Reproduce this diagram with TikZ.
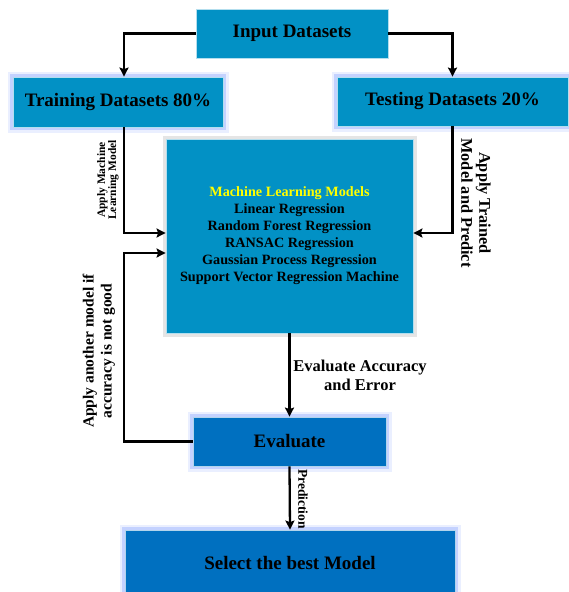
\documentclass[tikz,border=0pt]{standalone}
\usepackage{fontspec}
\setmainfont{Liberation Serif}
\usepackage{xcolor}
\usepackage{tikz}
\usetikzlibrary{arrows.meta, positioning}
\definecolor{boxblue}{HTML}{0291C5}
\definecolor{darkblue}{HTML}{0070C0}
\definecolor{glowblue}{HTML}{8CA6FF}
\definecolor{mlyellow}{HTML}{FFFF00}

\begin{document}
\begin{tikzpicture}[
    x=1pt, y=-1pt,
    every node/.style={font=\bfseries},
    box/.style={draw=white!70!boxblue, line width=0.8pt, fill=boxblue, inner sep=0pt, font=\bfseries\fontsize{19}{21}\selectfont},
    glow/.style={preaction={draw=glowblue, line width=11pt, opacity=0.18, rounded corners=5pt}, preaction={draw=glowblue, line width=6pt, opacity=0.4, rounded corners=2pt}},
    darkbox/.style={box, fill=darkblue, draw=white!70!darkblue},
    shade/.style={preaction={draw=black, line width=7pt, opacity=0.10}},
    link/.style={draw, line width=2.3pt, -{Stealth[length=9pt, width=9pt, inset=1.5pt]}},
    lbl/.style={align=center, inner sep=0pt}
]
\useasboundingbox (0,0) rectangle (568,592);

\node[box, minimum width=192pt, minimum height=49pt] (input) at (292,33.5) {Input Datasets};
\node[box, glow, minimum width=210pt, minimum height=50pt] (train) at (118,102) {Training Datasets 80\%};
\node[box, glow, minimum width=231pt, minimum height=49pt] (test) at (452.5,101.5) {Testing Datasets 20\%};
\node[box, shade, minimum width=247pt, minimum height=194pt, align=center,
      font=\bfseries\fontsize{14.2}{17}\selectfont] (ml) at (289.5,236)
    {{\color{mlyellow}Machine Learning Models}\\Linear Regression\\Random Forest Regression\\RANSAC Regression\\Gaussian Process Regression\\Support Vector Regression Machine};
\node[darkbox, glow, minimum width=193pt, minimum height=49pt] (eval) at (289.5,441.5) {Evaluate};
\node[darkbox, glow, minimum width=330pt, minimum height=66pt] (best) at (290,563) {Select the best Model};

\coordinate (lbus) at (124,253);

\draw[link] (input.west) -| ([xshift=6pt]train.north);
\draw[link] (input.east) -| (test.north);
\draw[link] ([xshift=6pt]train.south) |- ([yshift=3pt]ml.west);
\draw[link] (eval.west) -| (lbus) -- (lbus -| ml.west);
\draw[link] (test.south) |- ([yshift=3pt]ml.east);
\draw[link] (ml.south) -- (eval.north);
\draw[link] (eval.south) -- (best.north);

\node[lbl, rotate=90, font=\bfseries\fontsize{11.5}{11}\selectfont] (applyml) at (108,180) {Apply Machine\\Learning Model};
\node[lbl, rotate=90, font=\bfseries\fontsize{15.5}{18}\selectfont] (another) at (99,351) {Apply another model if\\accuracy is not good};
\node[lbl, rotate=-90, font=\bfseries\fontsize{16.3}{18}\selectfont] (trained) at (476,203) {Apply Trained\\Model and Predict};
\node[lbl, font=\bfseries\fontsize{16.5}{19}\selectfont] (accuracy) at (360,375) {Evaluate Accuracy\\and Error};
\node[lbl, rotate=-90, font=\bfseries\fontsize{13.5}{13}\selectfont] (predict) at (303,499) {Prediction};
\end{tikzpicture}
\end{document}
